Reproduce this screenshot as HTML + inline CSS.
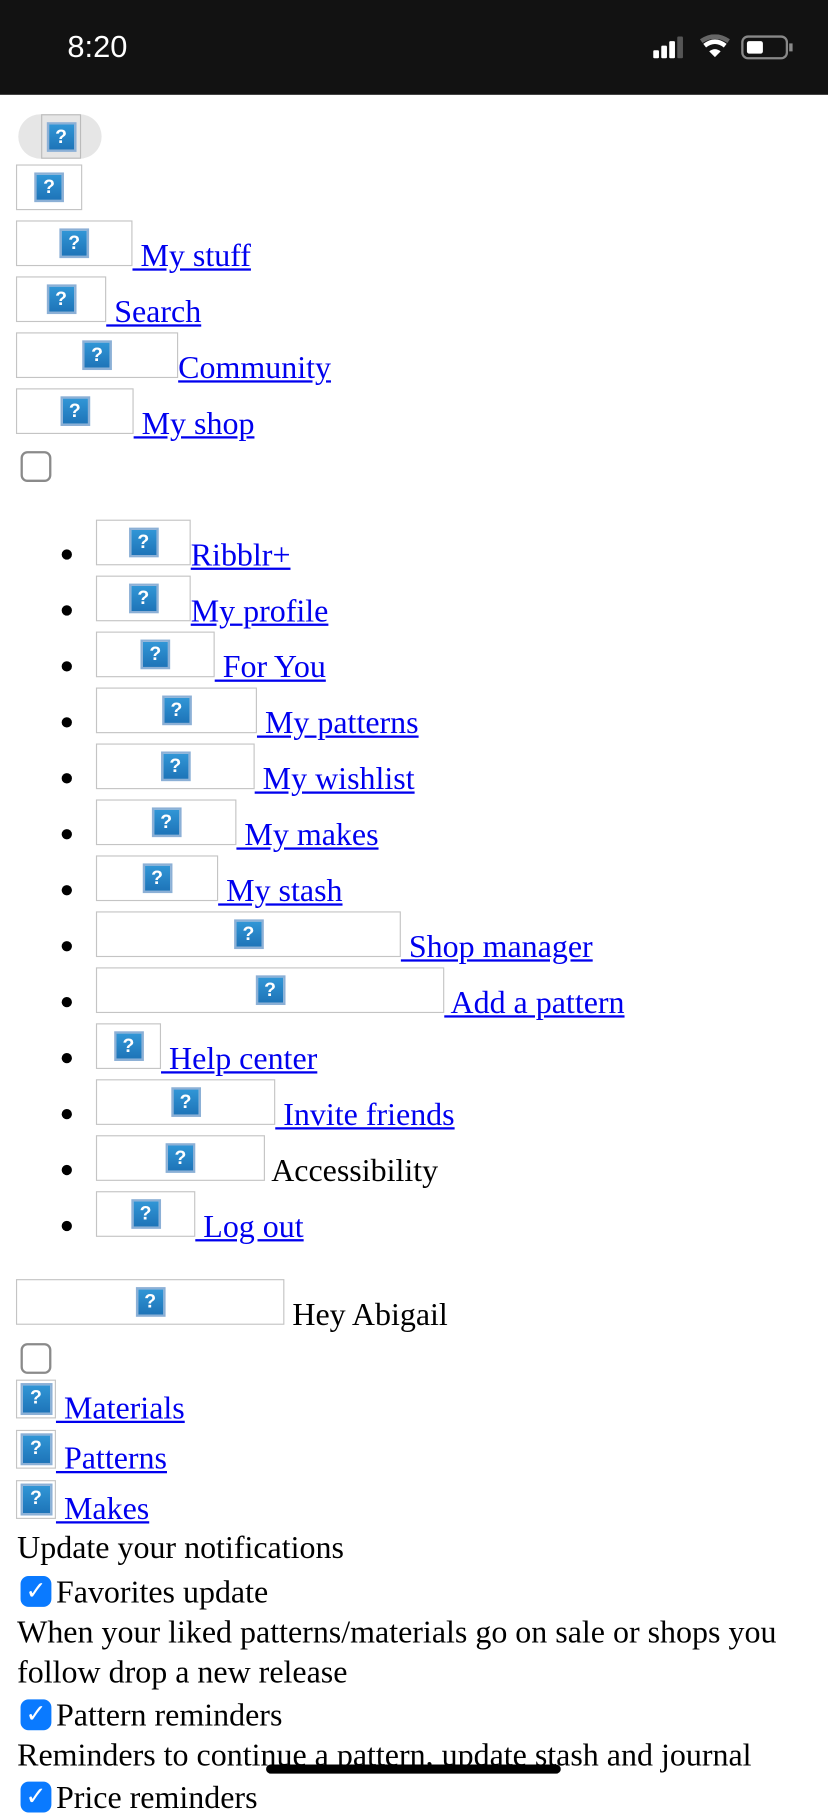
<!DOCTYPE html>
<html><head><meta charset="utf-8"><style>
html,body{margin:0;padding:0;background:#fff;width:828px;height:1792px;overflow:hidden}
#w{position:absolute;left:0;top:0;width:725px;height:1569px;transform:scale(1.142069);transform-origin:0 0;font-family:"Liberation Serif",serif;font-size:28px;color:#000}
.sb{position:absolute;left:0;top:0;width:725px;height:83px;background:#121212}
.time{position:absolute;left:59px;top:26px;font-family:"Liberation Sans",sans-serif;font-size:27px;color:#fff;font-weight:500}
.r{position:absolute;left:14px;line-height:1;white-space:nowrap}
.bx{display:inline-block;height:38px;border:1px solid #c4c4c4;overflow:hidden;vertical-align:baseline;position:relative;box-sizing:content-box}
.ic{position:absolute;top:50%;left:50%;width:22px;height:22px;margin:-13px 0 0 -13px;border:2px solid #8cb0d6;background:linear-gradient(#3196d6,#1e74b8);color:#fff;font:bold 17px/22px "Liberation Sans",sans-serif;text-align:center}
a{color:#0000ee;text-decoration:underline}
.dot{position:absolute;left:54px;width:9px;height:9px;border-radius:50%;background:#000}
.cb{position:absolute;left:18px;width:23px;height:23px;border:2px solid #8a8a8a;border-radius:6px}
.ck{position:absolute;left:18px;width:27px;height:27px;border-radius:7px;background:#0a7aff;color:#fff;font:bold 22px/27px "DejaVu Sans",sans-serif;text-align:center}
.t{position:absolute;left:15px;line-height:35px;white-space:nowrap}
</style></head><body><div id="w">
<div class="sb"><div class="time">8:20</div>
<svg style="position:absolute;left:570px;top:30px" width="125" height="24">
<rect x="2" y="14" width="5" height="7" rx="1" fill="#fff"/><rect x="9" y="10" width="5" height="11" rx="1" fill="#fff"/><rect x="16" y="6" width="5" height="15" rx="1" fill="#fff"/><rect x="23" y="2" width="5" height="19" rx="1" fill="#555"/>
<path d="M44 6 Q56 -2 68 6" stroke="#666" stroke-width="4" fill="none"/><path d="M47 10 Q56 3 65 10" stroke="#fff" stroke-width="4" fill="none"/><path d="M51 15 Q56 11 61 15 L56 20 Z" fill="#fff"/>
<rect x="80" y="2" width="39" height="19" rx="5" stroke="#888" stroke-width="2" fill="none"/><rect x="84" y="6" width="14" height="11" rx="2" fill="#fff"/><rect x="121" y="8" width="3" height="7" fill="#888"/>
</svg></div>
<div style="position:absolute;left:16px;top:100px;width:73px;height:39px;border-radius:20px;background:#e6e6e6"></div>
<div class="bx" style="position:absolute;left:36px;top:100px;width:33px;height:37px;border-color:#bbb"><div class="ic">?</div></div>
<div class="bx" style="position:absolute;left:14px;top:144px;width:56px"><div class="ic">?</div></div>
<div class="r" style="top:193px"><span class="bx" style="width:100px"><span class="ic">?</span></span><a> My stuff</a></div>
<div class="r" style="top:242px"><span class="bx" style="width:77px"><span class="ic">?</span></span><a> Search</a></div>
<div class="r" style="top:291px"><span class="bx" style="width:140px"><span class="ic">?</span></span><a>Community</a></div>
<div class="r" style="top:340px"><span class="bx" style="width:101px"><span class="ic">?</span></span><a> My shop</a></div>
<div class="cb" style="top:395px"></div>

<div class="dot" style="top:481px"></div><div class="r" style="left:84px;top:455px"><span class="bx" style="width:81px"><span class="ic">?</span></span><a>Ribblr+</a></div>
<div class="dot" style="top:530px"></div><div class="r" style="left:84px;top:504px"><span class="bx" style="width:81px"><span class="ic">?</span></span><a>My profile</a></div>
<div class="dot" style="top:579px"></div><div class="r" style="left:84px;top:553px"><span class="bx" style="width:102px"><span class="ic">?</span></span><a> For You</a></div>
<div class="dot" style="top:628px"></div><div class="r" style="left:84px;top:602px"><span class="bx" style="width:139px"><span class="ic">?</span></span><a> My patterns</a></div>
<div class="dot" style="top:677px"></div><div class="r" style="left:84px;top:651px"><span class="bx" style="width:137px"><span class="ic">?</span></span><a> My wishlist</a></div>
<div class="dot" style="top:726px"></div><div class="r" style="left:84px;top:700px"><span class="bx" style="width:121px"><span class="ic">?</span></span><a> My makes</a></div>
<div class="dot" style="top:775px"></div><div class="r" style="left:84px;top:749px"><span class="bx" style="width:105px"><span class="ic">?</span></span><a> My stash</a></div>
<div class="dot" style="top:824px"></div><div class="r" style="left:84px;top:798px"><span class="bx" style="width:265px"><span class="ic">?</span></span><a> Shop manager</a></div>
<div class="dot" style="top:873px"></div><div class="r" style="left:84px;top:847px"><span class="bx" style="width:303px"><span class="ic">?</span></span><a> Add a pattern</a></div>
<div class="dot" style="top:922px"></div><div class="r" style="left:84px;top:896px"><span class="bx" style="width:55px"><span class="ic">?</span></span><a> Help center</a></div>
<div class="dot" style="top:971px"></div><div class="r" style="left:84px;top:945px"><span class="bx" style="width:155px"><span class="ic">?</span></span><a> Invite friends</a></div>
<div class="dot" style="top:1020px"></div><div class="r" style="left:84px;top:994px"><span class="bx" style="width:146px"><span class="ic">?</span></span> Accessibility</div>
<div class="dot" style="top:1069px"></div><div class="r" style="left:84px;top:1043px"><span class="bx" style="width:85px"><span class="ic">?</span></span><a> Log out</a></div>

<div class="r" style="top:1120px"><span class="bx" style="width:233px"><span class="ic">?</span></span> Hey Abigail</div>
<div class="cb" style="top:1176px"></div>
<div class="r" style="top:1208px"><span class="bx" style="width:33px;height:32px"><span class="ic" style="width:24px;height:24px;margin:-14px 0 0 -14px">?</span></span><a> Materials</a></div>
<div class="r" style="top:1252px"><span class="bx" style="width:33px;height:32px"><span class="ic" style="width:24px;height:24px;margin:-14px 0 0 -14px">?</span></span><a> Patterns</a></div>
<div class="r" style="top:1296px"><span class="bx" style="width:33px;height:32px"><span class="ic" style="width:24px;height:24px;margin:-14px 0 0 -14px">?</span></span><a> Makes</a></div>
<div class="t" style="top:1338px">Update your notifications</div>
<div class="ck" style="top:1380px">✓</div><div class="t" style="left:49px;top:1377px">Favorites update</div>
<div class="t" style="top:1412px">When your liked patterns/materials go on sale or shops you</div>
<div class="t" style="top:1447px">follow drop a new release</div>
<div class="ck" style="top:1488px">✓</div><div class="t" style="left:49px;top:1485px">Pattern reminders</div>
<div class="t" style="top:1520px">Reminders to continue a pattern, update stash and journal</div>
<div class="ck" style="top:1560px">✓</div><div class="t" style="left:49px;top:1557px">Price reminders</div>
<div style="position:absolute;left:233px;top:1545px;width:258px;height:8px;border-radius:4px;background:#000"></div>
</div></body></html>
